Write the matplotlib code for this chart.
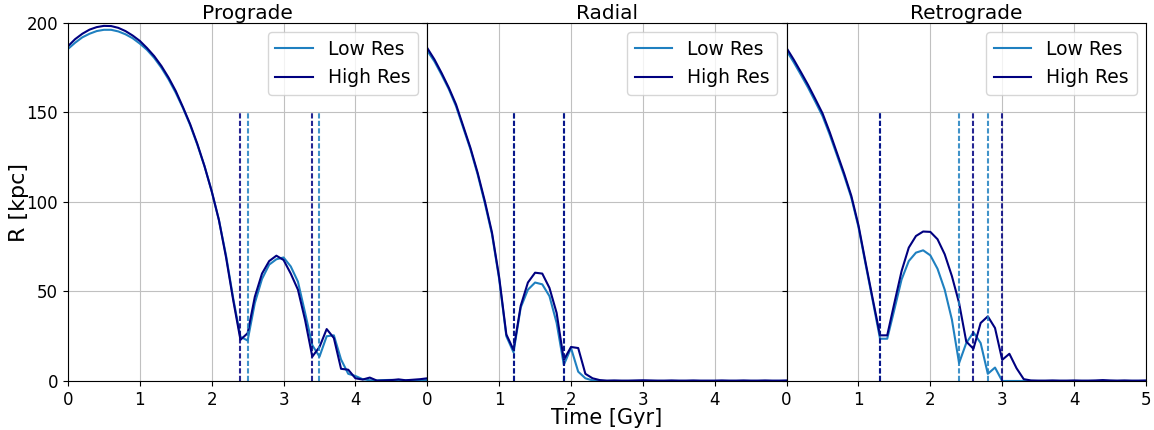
import numpy as np
import matplotlib
matplotlib.use("Agg")
import matplotlib.pyplot as plt

time = np.round(np.arange(0, 5.01, 0.1), 1)

prograde_low = [185.5, 189, 192, 194, 195.5, 196.2, 196.2, 195.3, 193.7, 191.5,
                188.5, 185, 180.5, 175, 168.5, 161, 152.5, 143, 132, 120,
                106, 90, 70, 46, 24.7, 22.6, 43.5, 57, 65, 68,
                69, 64, 55.5, 38, 20, 13.6, 25, 25.5, 12, 4,
                2.8, 1, 0.4, 0.3, 0.5, 0.6, 0.4, 0.3, 0.5, 0.4, 0.5]
prograde_high = [187, 191, 194, 196.3, 197.7, 198.4, 198.3, 197.3, 195.5, 193,
                 190, 186, 181.5, 176, 169.5, 162, 153, 143.5, 132.5, 120,
                 106, 90, 69, 45, 23, 26.7, 47, 60, 67, 70,
                 67.6, 60, 51, 34, 13.6, 19, 29, 24, 6.8, 6.3,
                 1.5, 0.8, 1.9, 0.2, 0.3, 0.5, 0.9, 0.4, 0.7, 1.0, 1.5]

radial_low = [184.5, 178.5, 171, 163, 153.5, 141.5, 129.5, 115.5, 99.5, 82,
              57, 25, 16, 41, 51, 55, 54, 47.4, 32.4, 9,
              18.4, 5.2, 1.5, 0.3, 0, 0, 0, 0, 0, 0,
              0, 0, 0, 0, 0, 0, 0, 0, 0, 0,
              0, 0, 0, 0, 0, 0, 0, 0, 0, 0, 0]
radial_high = [186, 179.6, 172, 163.8, 154.5, 142.4, 130.3, 116.4, 100.6, 83,
               58, 26, 17.4, 42, 55, 60.5, 60, 52, 38, 11.8,
               19, 18.4, 4, 1.5, 0.5, 0.2, 0.3, 0.2, 0.2, 0.3,
               0.4, 0.3, 0.2, 0.2, 0.3, 0.2, 0.2, 0.3, 0.2, 0.2,
               0.2, 0.3, 0.2, 0.2, 0.3, 0.2, 0.2, 0.3, 0.2, 0.2, 0.3]

retro_low = [184.5, 178, 171, 163.8, 156, 148, 137.6, 126.2, 114.8, 102.5,
             86, 65, 44.5, 23.6, 23.6, 40, 56.7, 67, 71.7, 73,
             70.2, 62.7, 51, 34.3, 10, 21.2, 27.2, 21.2, 4, 7.5,
             0, 0, 0, 0, 0, 0, 0, 0, 0, 0,
             0, 0, 0, 0, 0, 0, 0, 0, 0, 0, 0]
retro_high = [186, 179.5, 172.5, 165.3, 157.5, 149.5, 139, 127.5, 116, 103.5,
              87, 66, 45.5, 25.5, 25.5, 43.6, 61.4, 74.5, 81, 83.5,
              83.3, 79.2, 70.8, 58.6, 43.6, 22, 18, 32.4, 36.1, 29.6,
              11.8, 15.2, 7.1, 1, 0.3, 0.2, 0.2, 0.3, 0.2, 0.2,
              0.3, 0.2, 0.2, 0.3, 0.5, 0.3, 0.2, 0.3, 0.2, 0.2, 0.3]

titles = ["Prograde", "Radial", "Retrograde"]
low_series = [prograde_low, radial_low, retro_low]
high_series = [prograde_high, radial_high, retro_high]
pericentres_low = [[2.5, 3.5], [1.2, 1.9], [1.3, 2.4, 2.8]]
pericentres_high = [[2.4, 3.4], [1.2, 1.9], [1.3, 2.6, 3.0]]

low_color = "#1f80c0"
high_color = "navy"
dash = (0, (2.5, 1.1))

fig, axes = plt.subplots(1, 3, figsize=(11.54, 4.30), dpi=100, sharey=True)
fig.subplots_adjust(left=0.0589, right=0.993, top=0.9465, bottom=0.114, wspace=0)

for i, ax in enumerate(axes):
    ax.plot(time, low_series[i], color=low_color, lw=1.5, label="Low Res")
    ax.plot(time, high_series[i], color=high_color, lw=1.5, label="High Res")
    for t in pericentres_low[i]:
        ax.vlines(t, 0, 150, colors=low_color, linestyles=[dash], lw=1.5, alpha=0.85)
    for t in pericentres_high[i]:
        ax.vlines(t, 0, 150, colors=high_color, linestyles=[dash], lw=1.5, alpha=0.85)
    ax.set_xlim(0, 5)
    ax.set_ylim(0, 200)
    ax.set_title(titles[i], fontsize=14.5, pad=2)
    ax.grid(True, color="#c0c0c0", lw=0.8)
    if i < 2:
        ax.set_xticks([0, 1, 2, 3, 4])
    else:
        ax.set_xticks([0, 1, 2, 3, 4, 5])
    ax.set_yticks([0, 50, 100, 150, 200])
    ax.tick_params(labelsize=12)
    ax.legend(loc="upper right", fontsize=13.5)

fig.text(0.008, 0.53, "R [kpc]", rotation=90, ha="left", va="center", fontsize=16)
fig.text(0.526, 0.004, "Time [Gyr]", ha="center", va="bottom", fontsize=15)

fig.savefig("out.png", dpi=100)
